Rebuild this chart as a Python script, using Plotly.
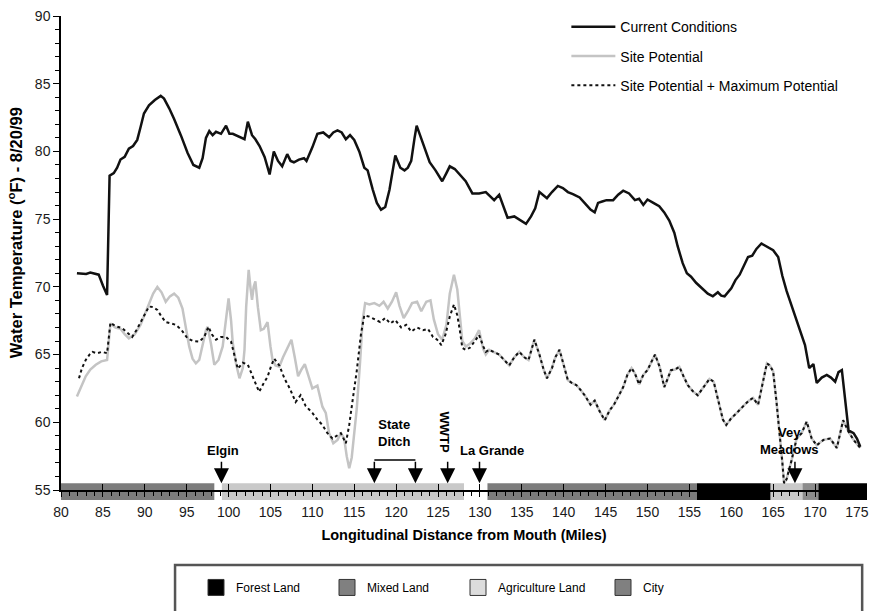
import plotly.graph_objects as go

# ---------------- data ----------------
cc_mile = [81.9, 82.5, 83.0, 83.5, 84.0, 84.5, 85.0, 85.5, 85.8, 86.3, 86.7, 87.1, 87.6, 88.1, 88.6, 89.1,
           89.5, 89.9, 90.5, 91.2, 91.9, 92.3, 92.9, 93.5, 94.3, 95.1, 95.8, 96.5, 96.9, 97.3, 97.7, 98.1,
           98.5, 99.1, 99.7, 100.1, 100.5, 101.2, 101.9, 102.3, 102.8, 103.2, 103.7, 104.3, 104.9, 105.4,
           105.9, 106.4, 107.0, 107.4, 107.8, 108.4, 109.0, 109.3, 110.0, 110.6, 111.3, 112.0, 112.5, 113.0,
           113.5, 114.0, 114.5, 115.0, 115.6, 116.2, 116.6, 117.2, 117.7, 118.2, 118.7, 119.2, 119.6, 119.9,
           120.5, 121.0, 121.4, 121.8, 122.2, 122.45, 122.8, 123.4, 124.0, 124.7, 125.5, 126.0, 126.4, 127.0,
           127.6, 128.3, 129.1, 129.9, 130.7, 131.2, 131.7, 132.3, 132.8, 133.3, 134.1, 134.8, 135.5, 136.1,
           136.6, 137.1, 137.5, 138.0, 138.6, 139.3, 139.9, 140.5, 141.1, 141.9, 142.7, 143.2, 143.7, 144.1,
           144.6, 145.1, 145.9, 146.5, 147.1, 147.8, 148.5, 149.0, 149.5, 150.0, 150.7, 151.4, 152.0, 152.6,
           153.2, 153.6, 154.2, 154.7, 155.2, 155.8, 156.5, 157.2, 157.8, 158.4, 158.8, 159.2, 160.0, 160.5,
           161.0, 161.5, 162.0, 162.5, 163.0, 163.6, 164.2, 165.0, 165.6, 166.1, 166.6, 167.4, 168.2, 168.8,
           169.3, 169.8, 170.2, 170.8, 171.4, 171.9, 172.4, 172.8, 173.2, 173.6, 174.0, 174.6, 175.0, 175.4]
cc_temp = [71.0, 71.0, 70.95, 71.05, 71.0, 70.9, 70.1, 69.4, 78.2, 78.4, 78.8, 79.4, 79.6, 80.2, 80.4, 80.85,
           81.8, 82.8, 83.4, 83.8, 84.1, 83.9, 83.2, 82.4, 81.2, 79.9, 79.0, 78.8, 79.5, 81.0, 81.5, 81.2,
           81.45, 81.3, 81.9, 81.3, 81.3, 81.1, 80.9, 82.2, 81.2, 80.9, 80.4, 79.6, 78.3, 80.0,
           79.3, 78.9, 79.8, 79.3, 79.2, 79.4, 79.5, 79.3, 80.3, 81.3, 81.4, 81.05, 81.4, 81.55,
           81.4, 80.9, 81.2, 80.85, 80.0, 78.8, 78.6, 77.2, 76.2, 75.7, 75.9, 77.15, 78.5, 79.7,
           78.8, 78.6, 78.8, 79.3, 81.0, 81.9, 81.3, 80.3, 79.2, 78.6, 77.8, 78.4, 78.9, 78.7,
           78.3, 77.8, 76.9, 76.9, 77.0, 76.7, 76.4, 76.8, 75.9, 75.1, 75.2, 74.9, 74.65, 75.2,
           75.8, 77.0, 76.8, 76.55, 77.0, 77.45, 77.3, 77.0, 76.85, 76.6, 76.05, 75.7, 75.5, 76.2,
           76.3, 76.4, 76.4, 76.8, 77.1, 76.9, 76.4, 76.5, 76.05, 76.45, 76.2, 75.95, 75.5, 74.9,
           74.0, 73.0, 71.75, 71.0, 70.75, 70.3, 69.9, 69.5, 69.3, 69.6, 69.35, 69.3, 69.9, 70.5,
           70.9, 71.6, 72.2, 72.3, 72.8, 73.2, 73.0, 72.7, 72.2, 70.8, 69.7, 68.2, 66.8, 65.7,
           64.0, 64.3, 62.9, 63.3, 63.5, 63.3, 63.0, 63.7, 63.85, 61.5, 59.4, 59.2, 58.8, 58.2]

sp_head_mile = [81.9, 82.5, 82.95, 83.5, 84.15, 84.8, 85.5, 85.9, 86.5, 87.1, 87.6, 88.1, 88.8, 89.5, 90.0,
                90.5, 91.0, 91.5, 92.0, 92.5, 93.0, 93.5, 94.0, 94.5, 94.9, 95.3, 95.7, 96.1, 96.5, 96.9,
                97.3, 97.5, 97.9, 98.3, 98.8, 99.3, 99.7, 100.0, 100.3, 100.5, 100.9, 101.3, 101.7, 101.9,
                102.1, 102.4, 102.6, 102.8, 103.0, 103.2, 103.5, 103.85, 104.2, 104.65, 105.0, 105.25,
                105.6, 106.05, 106.5, 107.0, 107.5, 107.9, 108.3, 108.7, 109.1, 109.5, 110.0, 110.6,
                111.2, 111.6, 112.0, 112.5, 113.0, 113.4, 113.8, 114.1, 114.4, 114.7, 114.9, 115.3,
                115.7, 116.0, 116.3, 116.8, 117.4, 118.0, 118.5, 119.0, 119.5, 120.0, 120.4, 120.9,
                121.4, 121.9, 122.5, 123.0, 123.6, 124.1, 124.5, 125.0, 125.5, 126.0, 126.4, 126.9,
                127.3, 127.6, 127.9, 128.3, 128.8, 129.4, 129.9, 130.4, 130.7]
sp_head_temp = [61.9, 62.8, 63.4, 63.9, 64.25, 64.5, 64.6, 67.3, 67.0, 66.9, 66.5, 66.2, 66.5, 67.2, 68.0,
                68.8, 69.5, 70.0, 69.6, 68.9, 69.3, 69.5, 69.2, 68.4, 67.0, 65.6, 64.7, 64.35, 64.6, 65.8,
                66.8, 67.05, 65.8, 64.25, 64.6, 65.6, 67.5, 69.15, 67.5, 65.85, 64.3, 63.25, 64.0, 65.35,
                68.5, 71.25, 70.0, 69.05, 70.0, 70.4, 68.5, 66.8, 66.9, 67.4, 65.6, 64.6,
                64.2, 64.1, 64.8, 65.5, 66.1, 64.8, 63.4, 63.9, 64.3, 63.5, 62.5, 62.7,
                61.15, 60.7, 59.2, 58.45, 58.7, 59.2, 58.8, 57.5, 56.6, 57.4, 58.45, 61.0,
                64.5, 67.5, 68.8, 68.7, 68.8, 68.6, 68.9, 68.4, 68.9, 69.6, 68.6, 67.7,
                68.2, 68.8, 68.9, 68.2, 68.9, 69.0, 67.6, 66.5, 66.1, 67.2, 69.5, 70.9,
                69.8, 68.0, 66.0, 65.6, 65.8, 66.2, 66.8, 65.4, 65.0]

mp_head_mile = [82.15, 82.5, 82.95, 83.4, 83.75, 84.3, 84.9, 85.5, 85.9, 86.5, 87.3, 87.9, 88.5, 89.0, 89.5,
                90.0, 90.5, 91.0, 91.5, 92.0, 92.5, 93.1, 93.7, 94.4, 95.1, 95.8, 96.5, 97.1, 97.6, 98.0,
                98.5, 99.1, 99.7, 100.3, 100.7, 101.1, 101.7, 102.3, 103.0, 103.65, 104.2, 104.65, 105.1,
                105.45, 106.05, 106.7, 107.3, 108.0, 108.6, 109.2, 110.0, 110.6, 111.2, 111.8, 112.4,
                112.9, 113.4, 114.0, 114.4, 114.8, 115.3, 115.8, 116.2, 116.8, 117.5, 118.1, 118.7,
                119.3, 119.9, 120.6, 121.2, 121.8, 122.5, 123.2, 123.8, 124.4, 124.9, 125.4, 125.9,
                126.4, 126.9, 127.3, 127.6, 127.9, 128.3, 128.8, 129.4, 129.9, 130.4, 130.7]
mp_head_temp = [63.25, 64.0, 64.6, 65.0, 65.2, 65.1, 65.2, 65.1, 67.35, 67.1, 66.95, 66.6, 66.3, 66.8, 67.4,
                68.0, 68.55, 68.5, 68.3, 67.8, 67.4, 67.3, 67.2, 66.8, 66.2, 66.0, 65.95, 66.3, 67.05, 66.5,
                66.1, 66.3, 66.3, 65.95, 64.9, 63.95, 64.4, 64.25, 63.2, 62.25, 62.9, 63.35, 64.2,
                64.7, 64.2, 63.2, 62.5, 61.5, 62.0, 61.2, 60.7, 60.2, 59.8, 59.2, 58.8,
                59.0, 59.2, 58.45, 59.8, 61.6, 63.8, 66.5, 67.9, 67.8, 67.6, 67.4, 67.7,
                67.3, 67.55, 67.0, 67.2, 66.7, 67.0, 66.8, 66.9, 66.3, 66.1, 65.7, 66.5,
                67.8, 68.7, 67.9, 66.8, 65.5, 65.35, 65.5, 66.0, 66.45, 65.6, 65.2]

# downstream of La Grande both potential scenarios coincide
tail_mile = [131.1, 131.7, 132.3, 132.9, 133.5, 134.1, 134.7, 135.3, 135.8, 136.5, 137.1, 137.6, 138.0,
             138.6, 139.0, 139.5, 140.0, 140.5, 141.0, 141.5, 142.0, 142.5, 143.2, 143.7, 144.3, 144.9,
             145.5, 146.0, 146.6, 147.1, 147.6, 148.1, 148.5, 149.0, 149.5, 150.0, 150.5, 150.9, 151.45,
             152.0, 152.4, 152.8, 153.3, 153.8, 154.3, 154.8, 155.4, 156.0, 156.7, 157.4, 157.9, 158.5,
             159.0, 159.4, 160.0, 160.6, 161.1, 161.6, 162.1, 162.6, 163.2, 163.7, 164.25, 164.6, 165.0,
             165.4, 165.8, 166.1, 166.3, 166.6, 167.2, 167.8, 168.4, 169.0, 169.6, 170.2, 171.0, 171.8,
             172.6, 173.35, 174.0, 174.6, 175.4]
tail_temp = [65.35, 65.2, 65.0, 64.6, 64.2, 64.8, 65.2, 64.8, 64.6, 66.1, 65.0, 63.9, 63.25,
             64.0, 64.8, 65.35, 64.2, 63.1, 62.9, 62.75, 62.4, 62.0, 61.3, 61.6, 60.8, 60.15,
             60.9, 61.3, 62.0, 62.6, 63.5, 64.0, 63.6, 62.8, 63.5, 63.85, 64.5, 65.0, 64.1,
             62.6, 63.2, 63.85, 63.9, 64.1, 63.4, 62.75, 62.3, 62.0, 62.6, 63.2, 63.0, 61.4,
             60.2, 59.8, 60.3, 60.65, 61.0, 61.3, 61.6, 61.8, 61.3, 62.8, 64.35, 64.2, 63.75,
             61.5, 59.2, 57.0, 55.5, 55.8, 57.2, 58.8, 59.2, 60.05, 58.8, 58.3, 58.7, 58.8,
             58.1, 60.15, 59.3, 58.7, 58.1]

series_names = ["Current Conditions", "Site Potential", "Site Potential + Maximum Potential"]

# land use strip along the river (miles)
land_start = [80.0, 99.2, 130.9, 155.9, 164.7, 168.5, 170.4]
land_end = [98.3, 128.1, 155.9, 164.7, 168.5, 170.4, 176.2]
land_type = ["Mixed Land", "Agriculture Land", "Mixed Land", "Forest Land", "Agriculture Land", "City", "Forest Land"]
land_types = ["Forest Land", "Mixed Land", "Agriculture Land", "City"]
land_colors = {"Forest Land": "#000000", "Mixed Land": "#7c7c7c",
               "Agriculture Land": "#c9c9c9", "City": "#8c8c8c"}
land_legend_colors = {"Forest Land": "#000000", "Mixed Land": "#808080",
                      "Agriculture Land": "#dcdcdc", "City": "#808080"}
land_legend_width = {"Forest Land": 86, "Mixed Land": 86, "Agriculture Land": 100, "City": 60}

# landmarks: name, label mile, label temp, arrow miles
landmark_names = ["Elgin", "State<br>Ditch", "WWTP", "La Grande", "Vey<br>Meadows"]
landmark_label_mile = [99.3, 119.8, 125.75, 131.5, 167.0]
landmark_label_temp = [57.95, 59.2, 59.3, 57.95, 58.6]
landmark_angle = [0, 0, 90, 0, 0]
arrow_miles = [99.15, 117.4, 122.3, 126.15, 129.95, 167.6]
ditch_bracket = [117.4, 122.3]

FONT = "Liberation Sans, Arial, sans-serif"

fig = go.Figure()

sp_mile = sp_head_mile + tail_mile
sp_temp = sp_head_temp + tail_temp
mp_mile = mp_head_mile + tail_mile
mp_temp = mp_head_temp + tail_temp

fig.add_trace(go.Scatter(x=sp_mile, y=sp_temp, mode="lines", name=series_names[1],
                         line=dict(color="#c4c4c4", width=2.5), legendgroup="b", legendrank=2))
fig.add_trace(go.Scatter(x=mp_mile, y=mp_temp, mode="lines", name=series_names[2],
                         line=dict(color="#111111", width=2, dash="dot"), legendgroup="c", legendrank=3))
fig.add_trace(go.Scatter(x=cc_mile, y=cc_temp, mode="lines", name=series_names[0],
                         line=dict(color="#111111", width=2.5), legendgroup="a", legendrank=1))

# land-use legend entries
for lt in land_types:
    fig.add_trace(go.Scatter(x=[None], y=[None], mode="markers", name=lt, legend="legend2",
                             legendwidth=land_legend_width[lt],
                             marker=dict(symbol="square", size=16, color=land_legend_colors[lt],
                                         line=dict(color="#333333", width=1)),
                             showlegend=True))

# invisible trace on overlay axis for crossing ticks
fig.add_trace(go.Scatter(x=[80, 176.2], y=[None, None], xaxis="x2", yaxis="y",
                         mode="lines", showlegend=False, hoverinfo="skip"))

shapes = []
for s, e, t in zip(land_start, land_end, land_type):
    shapes.append(dict(type="rect", xref="x", yref="paper", x0=s, x1=e, y0=-0.021, y1=0.0145,
                       fillcolor=land_colors[t], line=dict(width=0), layer="below"))
# State Ditch bracket
shapes.append(dict(type="line", xref="x", yref="y", x0=ditch_bracket[0], x1=ditch_bracket[1],
                   y0=57.22, y1=57.22, line=dict(color="black", width=1.6)))
# legend box for land use
shapes.append(dict(type="rect", xref="paper", yref="paper", x0=0.1415, x1=0.994, y0=-0.158, y1=-0.30,
                   line=dict(color="#555555", width=2.5), fillcolor="white", layer="below"))

annotations = []
for name, m, t, ang in zip(landmark_names, landmark_label_mile, landmark_label_temp, landmark_angle):
    annotations.append(dict(x=m, y=t, xref="x", yref="y", text="<b>%s</b>" % name, showarrow=False,
                            textangle=ang, font=dict(family=FONT, size=13, color="black")))
for m in arrow_miles:
    annotations.append(dict(x=m, y=55.5, xref="x", yref="y", text="", showarrow=True, ax=0, ay=-23,
                            arrowhead=2, arrowsize=2.0, arrowwidth=1.5, arrowcolor="black", standoff=0))
annotations.append(dict(x=-0.057, y=0.542, xref="paper", yref="paper", textangle=-90, showarrow=False,
                        xanchor="center", yanchor="middle",
                        text="<b>Water Temperature (<sup>o</sup>F) - 8/20/99</b>",
                        font=dict(family=FONT, size=16.5, color="black")))

fig.update_layout(
    width=874, height=611,
    margin=dict(l=61, r=7, t=16, b=121, autoexpand=False),
    paper_bgcolor="white", plot_bgcolor="white",
    font=dict(family=FONT, size=14, color="#1a1a1a"),
    shapes=shapes, annotations=annotations,
    xaxis=dict(range=[80, 176.2], tick0=80, dtick=5, showgrid=False, zeroline=False,
               showline=True, linecolor="black", linewidth=1.5,
               ticks="outside", ticklen=5, tickwidth=1.2, tickcolor="black",
               minor=dict(dtick=1, ticks="outside", ticklen=4, tickwidth=1, tickcolor="black"),
               ticklabelstandoff=3,
               tickfont=dict(size=14, color="#1a1a1a"),
               title=dict(text="<b>Longitudinal Distance from Mouth (Miles)</b>", standoff=11,
                          font=dict(size=14.5, color="black"))),
    xaxis2=dict(overlaying="x", matches="x", side="bottom", showgrid=False, zeroline=False,
                showticklabels=False, tick0=80, dtick=5, ticks="inside", ticklen=6, tickwidth=1.2,
                tickcolor="black", showline=False),
    yaxis=dict(range=[55, 90], tick0=55, dtick=5, showgrid=False, zeroline=False,
               showline=True, linecolor="black", linewidth=1.5,
               ticks="outside", ticklen=6, tickwidth=1.2, tickcolor="black",
               minor=dict(dtick=1, ticks="outside", ticklen=4, tickwidth=1, tickcolor="black"),
               tickfont=dict(size=14, color="#1a1a1a")),
    legend=dict(x=0.627, y=1.01, xanchor="left", yanchor="top", bgcolor="rgba(0,0,0,0)",
                font=dict(size=14, color="black"), traceorder="grouped", tracegroupgap=8,
                itemwidth=44),
    legend2=dict(orientation="h", x=0.1675, y=-0.175, xanchor="left", yanchor="top",
                 bgcolor="rgba(0,0,0,0)", font=dict(size=12, color="black"),
                 entrywidthmode="pixels"),
    showlegend=True,
)

fig.write_html("out.html", config={"displayModeBar": False},
               post_script="document.body.style.margin='0px';")
